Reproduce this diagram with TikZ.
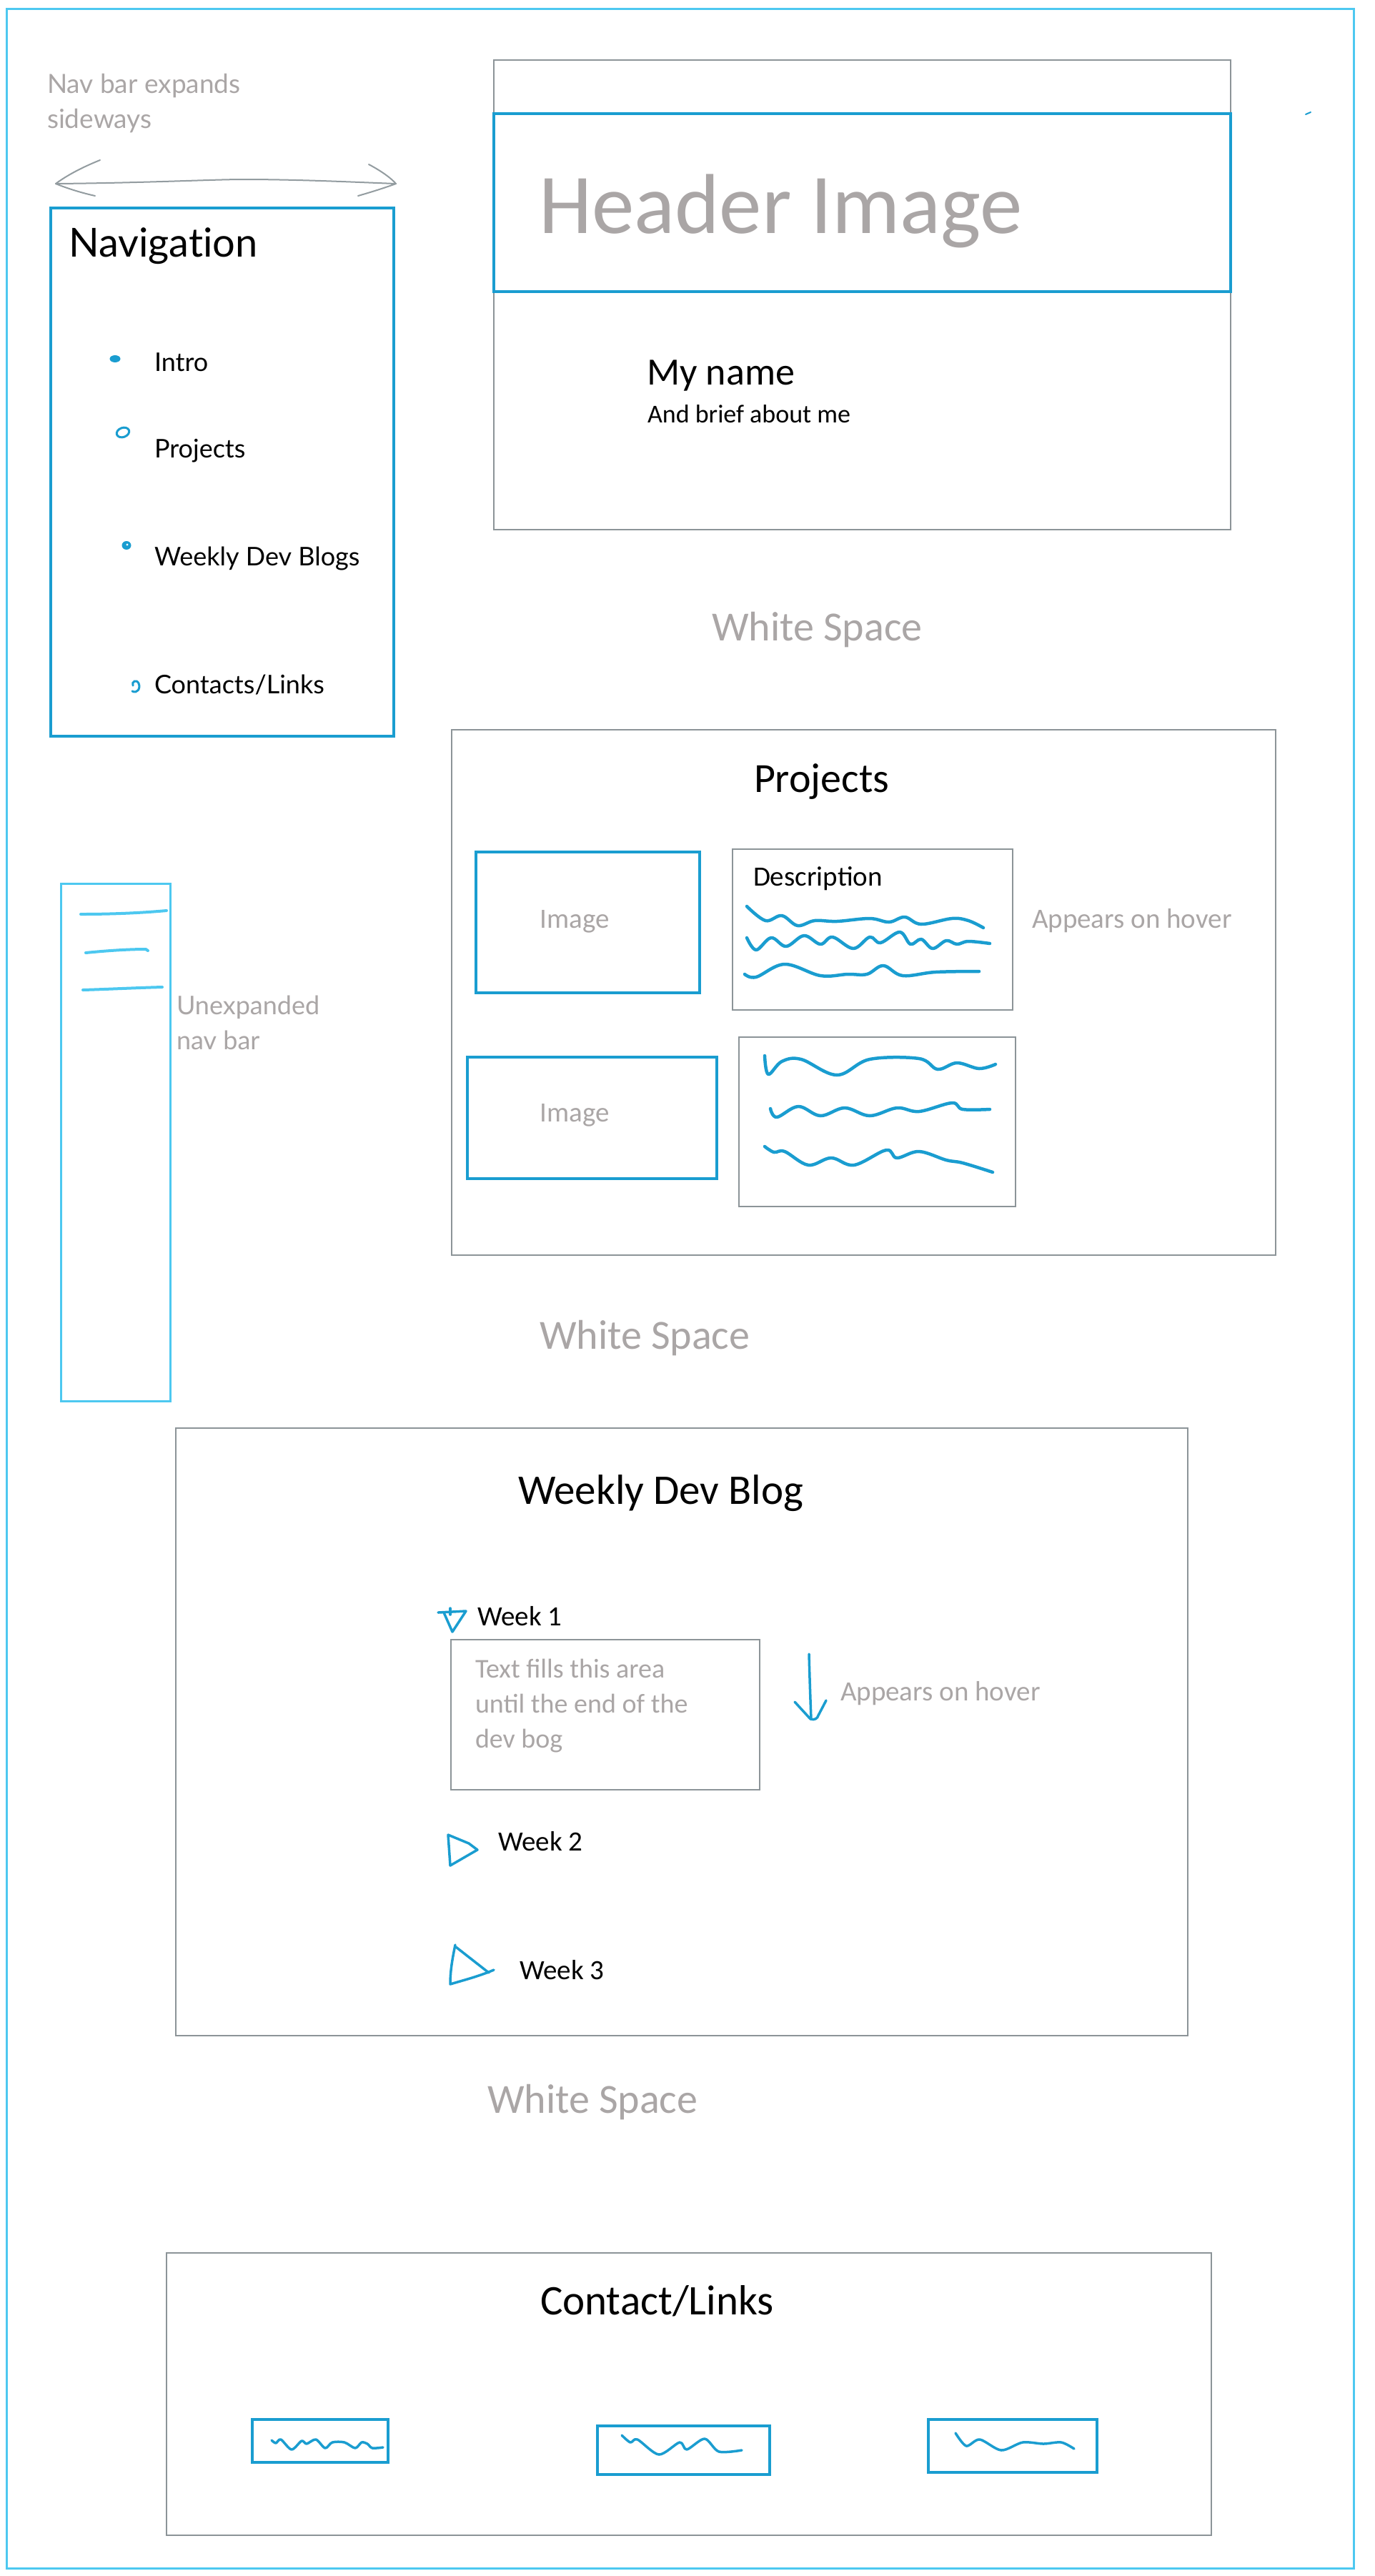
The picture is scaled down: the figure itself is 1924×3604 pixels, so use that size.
\documentclass[tikz,border=0pt]{standalone}
\usepackage{fontspec}
\setmainfont{Carlito}
\newfontfamily\calib{Carlito}
\newfontfamily\uisans[Ligatures=NoCommon]{Lato}
\newcommand\fsz[1]{\fontsize{#1}{#1}\selectfont}
\definecolor{inkBlue}{HTML}{1A9DD0}
\definecolor{frameBlue}{HTML}{4DC8F0}
\definecolor{boxGray}{HTML}{8C9498}
\definecolor{noteGray}{HTML}{AAA6A6}
\definecolor{arrowGray}{HTML}{939CA0}
\tikzset{
  graybox/.style={draw=boxGray, line width=2pt},
  bluebox/.style={draw=inkBlue, line width=3.5pt},
  ink/.style={draw=inkBlue, line width=4.5pt, line cap=round, line join=round},
  lbl/.style={inner sep=0pt, outer sep=0pt, anchor=base west},
  note/.style={lbl, text=noteGray, font=\calib\fsz{39}},
  body/.style={lbl, text=black, font=\calib\fsz{39}},
  heading/.style={lbl, text=black, font=\calib\fsz{59}},
  space/.style={lbl, text=noteGray, font=\calib\fsz{58}},
  navitem/.style={lbl, text=black, font=\uisans\fsz{36}},
}
\begin{document}
\begin{tikzpicture}[x=1pt, y=-1pt]
\useasboundingbox[fill=white] (0,0) rectangle (1924,3604);

% page frame
\draw[draw=frameBlue, line width=3pt] (9,12) rectangle (1894,3593);

% ---------- expanded navigation ----------
\node[lbl, text=noteGray, font=\uisans\fsz{37}] (navnote1) at (66,130) {Nav bar expands};
\node[lbl, text=noteGray, font=\uisans\fsz{37}] (navnote2) at (66,179) {sideways};

\coordinate (arrL) at (78,257);
\coordinate (arrR) at (554,257);
\draw[arrowGray, line width=2pt, line cap=round, line join=round]
  (arrL) .. controls (200,256) and (300,251) .. (340,251)
         .. controls (420,251) and (500,255) .. (arrR);
\draw[arrowGray, line width=2pt, line cap=round, line join=round]
  (140,224) .. controls (110,236) and (90,248) .. (arrL)
  .. controls (95,264) and (115,270) .. (133,274);
\draw[arrowGray, line width=2pt, line cap=round, line join=round]
  (516,230) .. controls (535,240) and (548,250) .. (arrR)
  .. controls (535,264) and (515,270) .. (501,274);

\draw[draw=inkBlue, line width=3.2pt] (71,291) rectangle (551,1030);
\node[lbl, text=black, font=\uisans\fsz{56}] (navtitle) at (96,359) {Navigation};

% bullets
\fill[inkBlue] (161,502) ellipse [x radius=7.5, y radius=5];
\draw[inkBlue, line width=3pt, rotate around={20:(172,605)}] (172,605) ellipse [x radius=9, y radius=6.5];
\fill[inkBlue] (177,763) ellipse [x radius=6.5, y radius=6];
\fill[white] (178,762) circle [radius=1.6];
\draw[inkBlue, line width=3pt, line cap=round]
  (185,967) .. controls (192,971) and (197,963) .. (194,956)
  .. controls (191,950) and (184,953) .. (186,959);

\node[navitem] (navintro) at (216,519) {Intro};
\node[navitem] (navproj)  at (216,640) {Projects};
\node[navitem] (navblog)  at (216,791) {Weekly Dev Blogs};
\node[navitem] (navlinks) at (216,970) {Contacts/Links};

% ---------- header ----------
\draw[graybox] (691,84) rectangle (1722,741);
\draw[bluebox] (691,159) rectangle (1722,408);
\node[lbl, text=noteGray, font=\calib\fsz{119}] (header) at (754,326) {Header Image};
\node[lbl, text=black, font=\calib\fsz{54}] (myname) at (905,538) {My name};
\node[lbl, text=black, font=\calib\fsz{36}] (about) at (906,591) {And brief about me};
\draw[inkBlue, line width=2pt, line cap=round] (1827,160) -- (1834,157);

\node[space] (ws1) at (996,896) {White Space};

% ---------- projects ----------
\draw[graybox] (632,1021) rectangle (1785,1756);
\node[heading, font=\calib\fsz{58}] (projtitle) at (1055,1108) {Projects};

\draw[bluebox] (666,1192) rectangle (979,1389);
\node[note, anchor=base] (img1) at (804,1298) {Image};
\draw[graybox] (1025,1188) rectangle (1417,1413);
\node[body] (desc) at (1054,1239) {Description};
\node[note] (hover1) at (1444,1298) {Appears on hover};

\draw[ink] plot[smooth, tension=0.6] coordinates {(1045,1268) (1071,1288) (1094,1281) (1116,1295) (1140,1288) (1171,1289) (1217,1285) (1244,1290) (1266,1283) (1289,1293) (1332,1285) (1355,1288) (1376,1298)};
\draw[ink] plot[smooth, tension=0.6] coordinates {(1045,1312) (1058,1329) (1079,1312) (1100,1324) (1125,1309) (1148,1321) (1165,1311) (1194,1327) (1217,1311) (1232,1319) (1259,1304) (1274,1321) (1289,1314) (1305,1327) (1324,1316) (1339,1321) (1355,1317) (1385,1320)};
\draw[ink] plot[smooth, tension=0.6] coordinates {(1042,1363) (1058,1367) (1098,1349) (1148,1365) (1186,1363) (1213,1363) (1236,1351) (1263,1365) (1309,1360) (1370,1359)};

\draw[bluebox] (654,1479) rectangle (1003,1649);
\node[note, anchor=base] (img2) at (804,1569) {Image};
\draw[graybox] (1034,1451) rectangle (1421,1688);

\draw[ink] plot[smooth, tension=0.6] coordinates {(1070,1477) (1075,1503) (1094,1485) (1121,1482) (1171,1504) (1217,1482) (1286,1481) (1312,1496) (1339,1487) (1370,1495) (1393,1489)};
\draw[ink] plot[smooth, tension=0.6] coordinates {(1078,1551) (1087,1563) (1117,1548) (1148,1561) (1182,1550) (1217,1561) (1255,1550) (1286,1555) (1332,1543) (1347,1552) (1385,1552)};
\draw[ink] plot[smooth, tension=0.6] coordinates {(1070,1604) (1083,1612) (1098,1611) (1131,1630) (1163,1620) (1195,1630) (1240,1609) (1255,1620) (1286,1611) (1324,1623) (1347,1627) (1389,1640)};

% ---------- collapsed navigation ----------
\draw[draw=frameBlue, line width=3pt] (85,1236) rectangle (238,1960);
\draw[draw=frameBlue, line width=4pt, line cap=round] (113,1279) .. controls (160,1279) and (200,1277) .. (233,1274);
\draw[draw=frameBlue, line width=4pt, line cap=round] (120,1333) .. controls (150,1330) and (180,1328) .. (204,1328) -- (207,1330);
\draw[draw=frameBlue, line width=4pt, line cap=round] (116,1385) .. controls (150,1384) and (190,1382) .. (227,1381);
\node[lbl, text=noteGray, font=\uisans\fsz{36}] (collapsed1) at (247,1419) {Unexpanded};
\node[lbl, text=noteGray, font=\uisans\fsz{36}] (collapsed2) at (247,1468) {nav bar};

\node[space] (ws2) at (755,1887) {White Space};

% ---------- weekly dev blog ----------
\draw[graybox] (246,1998) rectangle (1662,2848);
\node[heading] (blogtitle) at (725,2104) {Weekly Dev Blog};

\draw[ink, line width=3.5pt] (613,2256) -- (652,2254);
\draw[ink, line width=3.5pt] (630,2250) -- (630,2259);
\draw[ink, line width=3.5pt] (621,2256) -- (633,2283) -- (652,2254);
\node[body] (week1) at (668,2274) {Week 1};

\draw[graybox] (631,2294) rectangle (1063,2504);
\node[lbl, text=noteGray, font=\calib\fsz{38}] (fill1) at (665,2347) {Text fills this area};
\node[lbl, text=noteGray, font=\calib\fsz{38}] (fill2) at (665,2396) {until the end of the};
\node[lbl, text=noteGray, font=\calib\fsz{38}] (fill3) at (665,2445) {dev bog};

\draw[ink, line width=3.5pt] (1132,2314) .. controls (1133,2350) and (1134,2380) .. (1135,2405);
\draw[ink, line width=3.5pt] (1112,2381) -- (1134,2405) .. controls (1140,2407) and (1144,2404) .. (1145,2400) -- (1156,2379);
\node[note] (hover2) at (1176,2379) {Appears on hover};

\draw[ink, line width=3.5pt] (627,2567) -- (630,2610) -- (668,2588) -- (656,2579) -- (627,2567);
\node[body] (week2) at (697,2589) {Week 2};

\draw[ink, line width=3.5pt] (637,2721) .. controls (632,2745) and (630,2760) .. (630,2776)
  .. controls (650,2770) and (670,2765) .. (691,2756);
\draw[ink, line width=3.5pt] (638,2724) -- (684,2760);
\node[body] (week3) at (727,2769) {Week 3};

\node[space] (ws3) at (682,2956) {White Space};

% ---------- contact / links ----------
\draw[graybox] (233,3152) rectangle (1695,3547);
\node[heading] (contacttitle) at (756,3238) {Contact/Links};

\draw[draw=inkBlue, line width=3.2pt] (353,3385) rectangle (543,3445);
\draw[ink, line width=3.5pt] plot[smooth, tension=0.5] coordinates {(380,3414) (386,3418) (393,3413) (408,3427) (422,3415) (429,3419) (442,3413) (455,3425) (465,3417) (482,3417) (497,3425) (506,3417) (514,3419) (521,3425) (536,3424)};

\draw[draw=inkBlue, line width=3.2pt] (836,3394) rectangle (1077,3462);
\draw[ink, line width=3.5pt] plot[smooth, tension=0.5] coordinates {(870,3407) (882,3417) (892,3413) (922,3434) (951,3417) (961,3427) (986,3412) (1006,3430) (1038,3428)};

\draw[draw=inkBlue, line width=3.2pt] (1299,3385) rectangle (1535,3459);
\draw[ink, line width=3.5pt] plot[smooth, tension=0.5] coordinates {(1337,3404) (1352,3422) (1371,3413) (1401,3428) (1431,3417) (1460,3419) (1485,3417) (1503,3426)};

\end{tikzpicture}
\end{document}
